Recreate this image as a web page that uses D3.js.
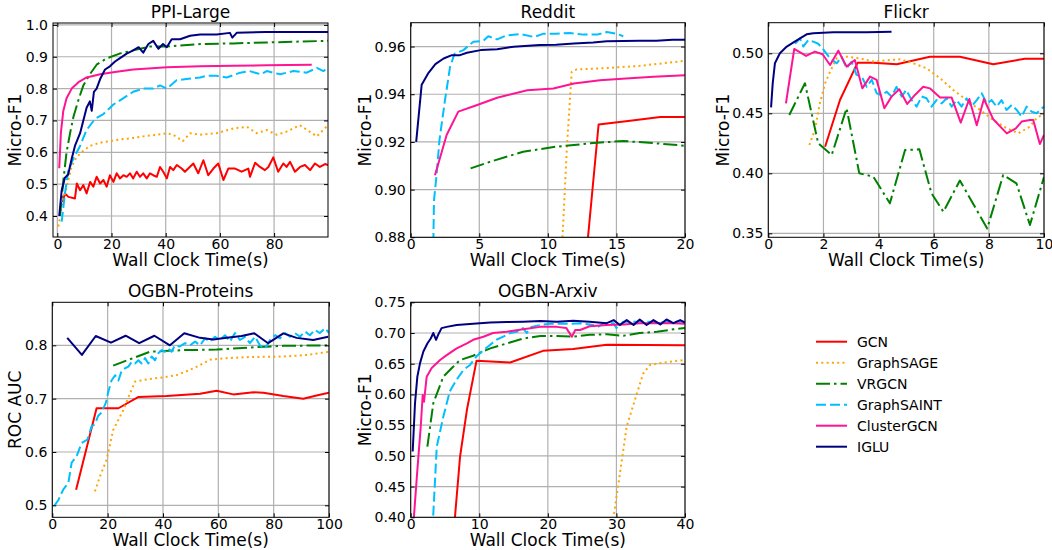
<!DOCTYPE html>
<html><head><meta charset="utf-8">
<script src="https://cdn.jsdelivr.net/npm/d3@7"></script>
<style>body{margin:0;background:#fff} svg{display:block} text{font-family:"DejaVu Sans",sans-serif;fill:#000}</style>
</head><body><svg id="c" width="1052" height="550"></svg>
<script>
const seriesNames = ["GCN","GraphSAGE","VRGCN","GraphSAINT","ClusterGCN","IGLU"];
const seriesColors = ["#ff0000","#ffa500","#008000","#00bfff","#ff1493","#000080"];
const seriesDash = [null,"2,3.3","14,4,2.5,4","10,4",null,null];

// ---- PPI-Large ----
const ppiGCN = [[2.0,0.444],[2.8,0.471],[4.1,0.46],[6.5,0.455],[7.2,0.502],[8.4,0.481],[9.6,0.497],[10.8,0.471],[12.1,0.507],[13.3,0.492],[14.5,0.523],[15.8,0.502],[17,0.513],[18.2,0.492],[19.4,0.528],[20.7,0.507],[21.9,0.534],[23.1,0.518],[24.4,0.528],[25.6,0.523],[26.8,0.534],[28,0.518],[29.3,0.539],[30.5,0.523],[31.7,0.534],[33,0.518],[34.2,0.534],[35.4,0.528],[36.7,0.523],[37.9,0.554],[39.1,0.539],[40.4,0.518],[41.6,0.554],[42.8,0.544],[44.1,0.56],[45.9,0.549],[47.1,0.539],[50.2,0.565],[52,0.534],[53.9,0.575],[55.7,0.528],[57.6,0.549],[59.4,0.565],[61.3,0.513],[63.1,0.549],[65.6,0.549],[68,0.539],[70.5,0.549],[71.1,0.523],[73,0.567],[74.8,0.554],[76.6,0.544],[77.9,0.554],[79.7,0.584],[81.5,0.539],[83.4,0.565],[84.6,0.554],[85.9,0.57],[87.7,0.539],[89.6,0.554],[91.4,0.56],[93.3,0.544],[95.1,0.565],[96.9,0.554],[98.8,0.563],[99.9,0.56]];
const ppiSAGE = [[0.4,0.367],[1.6,0.43],[3.4,0.49],[5.3,0.555],[7.1,0.585],[9.6,0.605],[12,0.62],[15.8,0.63],[19.4,0.635],[23,0.64],[28,0.645],[31.7,0.65],[36.8,0.655],[40.4,0.66],[42.8,0.655],[46.3,0.635],[49,0.66],[52.7,0.655],[58.8,0.66],[65,0.675],[70,0.68],[73.6,0.66],[77.3,0.67],[81,0.655],[84.6,0.665],[89.5,0.685],[95.8,0.65],[99.9,0.685]];
const ppiVR = [[1,0.40],[2.2,0.51],[3.4,0.60],[4.7,0.66],[5.9,0.71],[7.8,0.765],[9.6,0.81],[12,0.845],[14.5,0.875],[18.2,0.895],[23,0.91],[28,0.92],[34.2,0.932],[40.4,0.932],[52.7,0.94],[65,0.942],[77.3,0.945],[99.9,0.95]];
const ppiSAINT = [[1.6,0.382],[2.8,0.47],[4,0.54],[5.9,0.58],[8.4,0.62],[10.8,0.67],[13.9,0.705],[17,0.72],[20.7,0.75],[24.4,0.77],[28,0.79],[31.7,0.80],[35.4,0.80],[37.9,0.81],[40.4,0.80],[44,0.826],[47.7,0.83],[52.7,0.835],[55.1,0.84],[58.8,0.84],[62.5,0.835],[67.5,0.85],[71,0.855],[75,0.845],[77.3,0.855],[82.2,0.845],[87.1,0.855],[92,0.85],[95.8,0.865],[98.2,0.855],[99.9,0.865]];
const ppiCluster = [[0.7,0.55],[1.3,0.66],[2.2,0.73],[3.4,0.77],[5.3,0.80],[7.8,0.82],[10.8,0.835],[15.8,0.845],[21.9,0.853],[28,0.86],[40.4,0.867],[52.7,0.87],[65,0.872],[77.3,0.873],[93.9,0.875]];
const ppiIGLU = [[0.7,0.40],[1.6,0.48],[2.8,0.52],[4,0.53],[5.3,0.58],[6.5,0.62],[8.4,0.66],[9.6,0.70],[10.8,0.74],[12,0.76],[12.7,0.73],[13.5,0.79],[14.5,0.80],[15.8,0.83],[17.6,0.86],[19.4,0.87],[21.3,0.885],[23,0.895],[25.6,0.91],[28,0.92],[30,0.93],[31.7,0.913],[33.6,0.94],[35.4,0.95],[37.3,0.925],[39,0.94],[40.4,0.93],[42.2,0.955],[45.3,0.955],[49,0.966],[52.7,0.97],[58.8,0.97],[63.7,0.975],[64.6,0.96],[66.2,0.975],[77,0.978],[99.9,0.978]];

// ---- Reddit ----
const redGCN = [[12.6,0.86],[13.7,0.9273],[16,0.9289],[18.2,0.9305],[20,0.9305]];
const redSAGE = [[10.9,0.86],[11.4,0.919],[11.74,0.9494],[12.1,0.9504],[14.3,0.951],[16.7,0.9519],[20,0.954]];
const redVR = [[4.37,0.9089],[5.8,0.9117],[8.2,0.9159],[10.6,0.918],[13.1,0.9194],[15.5,0.9204],[17.9,0.9194],[20,0.9184]];
const redSAINT = [[1.6,0.86],[1.7,0.8956],[1.9,0.907],[2.1,0.921],[2.5,0.9375],[2.87,0.9515],[3.2,0.957],[3.84,0.9585],[4.57,0.962],[5.3,0.9624],[5.66,0.9643],[6.3,0.963],[7,0.9647],[8,0.9652],[9,0.964],[9.7,0.9654],[10.6,0.9654],[11.6,0.9657],[12.6,0.965],[13.6,0.965],[14.3,0.9661],[15,0.9654],[15.5,0.9643]];
const redCluster = [[1.77,0.906],[2.62,0.9229],[3.47,0.9327],[4.8,0.9354],[6.3,0.9385],[8.5,0.9417],[10.4,0.9424],[11.9,0.9445],[13.8,0.9459],[15.7,0.9466],[17.7,0.9473],[20,0.948]];
const redIGLU = [[0.4,0.92],[0.8,0.944],[1.3,0.949],[1.8,0.9526],[2.4,0.955],[3,0.9564],[3.6,0.9564],[4.1,0.9574],[5.1,0.9585],[6.3,0.9589],[7.5,0.9599],[9.4,0.9606],[10.6,0.9608],[11.9,0.9613],[13.3,0.9617],[14.3,0.9622],[16.7,0.9624],[17.9,0.9624],[19.1,0.9629],[20,0.9629]];

// ---- Flickr ----
const flGCN = [[2.06,0.4222],[2.6,0.4611],[3.24,0.4922],[3.81,0.4922],[4.66,0.4908],[5.86,0.4972],[6.95,0.4972],[8.16,0.4908],[9.3,0.4955],[10,0.4955]];
const flSAGE = [[1.49,0.4236],[1.69,0.4361],[1.87,0.4583],[2.06,0.475],[2.24,0.4847],[2.48,0.4958],[2.84,0.4972],[3.33,0.4958],[3.81,0.4931],[4.41,0.4944],[4.78,0.495],[5.26,0.4917],[5.74,0.4875],[6.23,0.4792],[6.71,0.4694],[7.19,0.4611],[7.68,0.4528],[8.16,0.4444],[8.65,0.4375],[9.07,0.4333],[9.49,0.4389],[9.73,0.4458],[10,0.45]];
const flVR = [[0.76,0.4486],[1.33,0.475],[1.81,0.425],[2.3,0.4153],[2.84,0.4542],[3.3,0.40],[3.81,0.3972],[4.41,0.375],[4.96,0.4194],[5.48,0.42],[5.92,0.3833],[6.35,0.368],[6.95,0.394],[7.94,0.354],[8.52,0.3986],[9.0,0.3917],[9.49,0.357],[10,0.397]];
const flSAINT = [[0.97,0.508],[1.15,0.5125],[1.27,0.5056],[1.45,0.511],[1.63,0.5097],[1.81,0.508],[2,0.503],[2.24,0.4958],[2.48,0.4917],[2.66,0.497],[2.84,0.4875],[3.02,0.493],[3.2,0.482],[3.39,0.4806],[3.57,0.472],[3.75,0.478],[3.93,0.4667],[4.11,0.465],[4.29,0.468],[4.47,0.464],[4.65,0.472],[4.84,0.464],[5,0.4694],[5.2,0.461],[5.38,0.4556],[5.56,0.464],[5.74,0.4625],[5.92,0.4556],[6.1,0.461],[6.29,0.4583],[6.47,0.4625],[6.65,0.4556],[6.83,0.461],[7.01,0.4556],[7.19,0.4625],[7.37,0.4556],[7.56,0.461],[7.74,0.4667],[7.92,0.4583],[8.1,0.461],[8.28,0.4556],[8.46,0.461],[8.64,0.4528],[8.83,0.4569],[9.01,0.4528],[9.19,0.4472],[9.37,0.4556],[9.55,0.4514],[9.73,0.45],[10,0.4556]];
const flCluster = [[0.64,0.4583],[0.94,0.5036],[1.37,0.4978],[1.69,0.5014],[1.97,0.4992],[2.24,0.4903],[2.54,0.5022],[2.84,0.4889],[3.14,0.4944],[3.41,0.4708],[3.69,0.4806],[3.93,0.4778],[4.21,0.4542],[4.47,0.4639],[4.75,0.47],[5.04,0.4578],[5.32,0.4653],[5.62,0.4722],[5.86,0.4708],[6.23,0.4631],[6.65,0.4631],[6.98,0.4422],[7.29,0.4619],[7.56,0.44],[7.82,0.4619],[8.16,0.445],[8.65,0.4333],[8.98,0.4375],[9.19,0.4431],[9.49,0.4444],[9.61,0.4444],[9.85,0.4244],[10,0.432]];
const flIGLU = [[0.1,0.455],[0.16,0.475],[0.24,0.4917],[0.42,0.50],[0.67,0.5056],[0.9,0.5089],[1.15,0.5125],[1.39,0.5158],[1.63,0.5167],[2.36,0.5175],[2.96,0.5175],[3.57,0.5175],[4.47,0.518]];

// ---- OGBN-Proteins ----
const prGCN = [[8.6,0.529],[16,0.682],[23.9,0.682],[31,0.703],[41.3,0.705],[53.4,0.709],[59.4,0.715],[65.4,0.708],[72.7,0.712],[76.3,0.711],[83.5,0.705],[90.7,0.70],[95.5,0.706],[100,0.711]];
const prSAGE = [[15.4,0.526],[17.2,0.554],[19.6,0.585],[22,0.641],[25.7,0.679],[28.1,0.71],[29.9,0.732],[34.1,0.736],[40.1,0.74],[44.9,0.744],[49.8,0.754],[53.4,0.763],[57,0.773],[63,0.776],[71.4,0.778],[83.5,0.779],[91.9,0.782],[100,0.788]];
const prVR = [[22,0.762],[35.3,0.788],[47.3,0.791],[59.4,0.792],[71.4,0.796],[83.5,0.799],[100,0.80]];
const prSAINT = [[0.7,0.499],[2.2,0.51],[4,0.53],[5.8,0.542],[7,0.58],[8.8,0.592],[10.6,0.617],[12.7,0.623],[14.2,0.648],[15.4,0.652],[16.6,0.668],[17.8,0.674],[19.4,0.693],[20.2,0.712],[21.4,0.734],[22.7,0.744],[23.9,0.734],[25.1,0.753],[26.3,0.757],[27.5,0.76],[28.7,0.769],[29.9,0.766],[31.1,0.772],[32.3,0.766],[33.5,0.776],[34.7,0.766],[35.9,0.779],[37.1,0.772],[38.3,0.785],[39.5,0.791],[40.7,0.788],[41.9,0.794],[43.1,0.788],[44.3,0.80],[46.1,0.798],[48,0.804],[49.8,0.80],[51.6,0.807],[53.4,0.80],[55.2,0.813],[57,0.807],[58.8,0.816],[60.6,0.81],[62.4,0.819],[64.2,0.807],[66,0.823],[67.8,0.81],[69.6,0.816],[71.4,0.804],[73.3,0.816],[75,0.80],[76.9,0.794],[78.7,0.81],[80.5,0.819],[82.3,0.813],[84.1,0.823],[85.9,0.816],[87.7,0.823],[89.5,0.816],[91.3,0.826],[93.1,0.819],[94.9,0.829],[96.7,0.823],[98.6,0.832],[100,0.823]];
const prIGLU = [[5.4,0.814],[10.7,0.782],[15.7,0.8175],[21.2,0.805],[26.5,0.818],[31.4,0.804],[36.9,0.818],[42.5,0.80],[47.7,0.8225],[53.4,0.814],[58.2,0.811],[63,0.814],[68.4,0.8175],[73,0.8225],[78,0.804],[83.5,0.8225],[88.3,0.814],[94.3,0.81],[99.7,0.816]];

// ---- OGBN-Arxiv ----
const axGCN = [[6.3,0.38],[7.2,0.499],[8.2,0.575],[9.6,0.655],[14.5,0.652],[19.3,0.671],[23.7,0.674],[28.6,0.681],[40,0.680]];
const axSAGE = [[29.3,0.38],[30.3,0.455],[31.5,0.548],[33,0.602],[33.9,0.634],[34.9,0.648],[36.4,0.651],[38.3,0.654],[40,0.656]];
const axVR = [[2.43,0.515],[3.3,0.586],[4.76,0.629],[6,0.643],[7.2,0.656],[9.1,0.663],[11.6,0.675],[14,0.683],[16.4,0.691],[18.9,0.695],[21.3,0.695],[23.7,0.694],[26.1,0.697],[28.6,0.698],[31,0.6955],[33.4,0.70],[35.9,0.702],[38.3,0.706],[40,0.708]];
const axSAINT = [[3.2,0.38],[3.3,0.4065],[3.8,0.515],[4.76,0.564],[5.7,0.605],[6.7,0.624],[7.7,0.64],[8.65,0.648],[9.6,0.662],[10.6,0.672],[11.6,0.681],[12.5,0.689],[13.5,0.694],[14.5,0.70],[15.5,0.702],[16.4,0.708],[16.9,0.70],[17.6,0.71],[18.9,0.713],[20.3,0.715],[21.8,0.715],[23.2,0.715],[24.7,0.716],[26.6,0.713],[27.1,0.708],[28.1,0.716],[29.6,0.716],[30,0.708],[31,0.7185],[32.5,0.7185],[34.4,0.7185],[36.4,0.7175],[38.3,0.7185],[40,0.7185]];
const axCluster = [[0.45,0.38],[0.49,0.404],[0.97,0.477],[1.46,0.547],[1.75,0.599],[1.94,0.588],[2.33,0.629],[3.06,0.643],[4.28,0.656],[5.25,0.664],[6.7,0.675],[8.2,0.683],[9.1,0.689],[10.6,0.694],[12,0.70],[14,0.702],[16.4,0.706],[18.9,0.71],[21.3,0.71],[22.7,0.708],[23.5,0.694],[24,0.705],[24.7,0.705],[26.1,0.711],[28.6,0.713],[31,0.714],[33.4,0.716],[35.9,0.716],[38.3,0.716],[40,0.715]];
const axIGLU = [[0.29,0.507],[0.63,0.586],[0.97,0.629],[1.36,0.651],[1.85,0.67],[2.43,0.683],[2.92,0.691],[3.3,0.70],[3.7,0.689],[4,0.697],[4.5,0.708],[5.25,0.71],[6.7,0.713],[9.1,0.715],[11.6,0.717],[14,0.718],[16.4,0.7185],[18.9,0.7196],[21.3,0.7185],[23.7,0.72],[26.1,0.7185],[28.6,0.716],[29.6,0.721],[30.5,0.713],[31.5,0.721],[32.5,0.713],[33.4,0.722],[34.4,0.713],[35.4,0.721],[36.4,0.714],[37.3,0.722],[38.3,0.716],[39.3,0.721],[40,0.717]];

// tick values
const ppiXTicks = [0,20,40,60,80], ppiYTicks = [0.4,0.5,0.6,0.7,0.8,0.9,1.0];
const redXTicks = [0,5,10,15,20], redYTicks = [0.88,0.90,0.92,0.94,0.96];
const flXTicks = [0,2,4,6,8,10], flYTicks = [0.35,0.40,0.45,0.50];
const prXTicks = [0,20,40,60,80,100], prYTicks = [0.5,0.6,0.7,0.8];
const axXTicks = [0,10,20,30,40], axYTicks = [0.40,0.45,0.50,0.55,0.60,0.65,0.70,0.75];

const panels = [
  {title:"PPI-Large", ylabel:"Micro-F1", series:[ppiGCN,ppiSAGE,ppiVR,ppiSAINT,ppiCluster,ppiIGLU], xd:[-1.6,99.9], yd:[0.334,1.006], xt:ppiXTicks, yt:ppiYTicks, yf:".1f", box:[53,23,328,237], ylx:21},
  {title:"Reddit", ylabel:"Micro-F1", series:[redGCN,redSAGE,redVR,redSAINT,redCluster,redIGLU], xd:[0,20], yd:[0.88,0.97], xt:redXTicks, yt:redYTicks, yf:".2f", box:[410.7,22.7,685,237.3], ylx:370.5},
  {title:"Flickr", ylabel:"Micro-F1", series:[flGCN,flSAGE,flVR,flSAINT,flCluster,flIGLU], xd:[0,10], yd:[0.3467,0.5255], xt:flXTicks, yt:flYTicks, yf:".2f", box:[768.3,22.7,1044,237.3], ylx:728.5},
  {title:"OGBN-Proteins", ylabel:"ROC AUC", series:[prGCN,prSAGE,prVR,prSAINT,null,prIGLU], xd:[0,100], yd:[0.4775,0.8807], xt:prXTicks, yt:prYTicks, yf:".1f", box:[52.3,302.3,329,517.3], ylx:21},
  {title:"OGBN-Arxiv", ylabel:"Micro-F1", series:[axGCN,axSAGE,axVR,axSAINT,axCluster,axIGLU], xd:[0,40], yd:[0.40,0.75], xt:axXTicks, yt:axYTicks, yf:".2f", box:[410.7,302.3,685,517.3], ylx:370.5}
];

const svg = d3.select("#c");
panels.forEach((p,pi)=>{
  const [x0,y0,x1,y1] = p.box;
  const x = d3.scaleLinear().domain(p.xd).range([x0,x1]);
  const y = d3.scaleLinear().domain(p.yd).range([y1,y0]);
  const g = svg.append("g");
  g.append("g").selectAll("line").data(p.xt).join("line")
    .attr("x1",d=>x(d)).attr("x2",d=>x(d)).attr("y1",y0).attr("y2",y1)
    .attr("stroke","#b0b0b0").attr("stroke-width",1.2);
  g.append("g").selectAll("line").data(p.yt).join("line")
    .attr("y1",d=>y(d)).attr("y2",d=>y(d)).attr("x1",x0).attr("x2",x1)
    .attr("stroke","#b0b0b0").attr("stroke-width",1.2);
  const cid = "clip"+pi;
  svg.append("clipPath").attr("id",cid).append("rect").attr("x",x0).attr("y",y0).attr("width",x1-x0).attr("height",y1-y0);
  const line = d3.line().x(d=>x(d[0])).y(d=>y(d[1]));
  const lg = g.append("g").attr("clip-path",`url(#${cid})`);
  p.series.forEach((s,si)=>{
    if(!s) return;
    lg.append("path").datum(s).attr("d",line).attr("fill","none")
      .attr("stroke",seriesColors[si]).attr("stroke-width",2)
      .attr("stroke-linejoin","round")
      .attr("stroke-dasharray",seriesDash[si]);
  });
  g.append("rect").attr("x",x0).attr("y",y0).attr("width",x1-x0).attr("height",y1-y0)
    .attr("fill","none").attr("stroke","#000").attr("stroke-width",1);
  const fmtY = d3.format(p.yf);
  const ax = d3.axisBottom(x).tickValues(p.xt).tickSize(-4).tickPadding(2).tickFormat(d3.format("d"));
  const ay = d3.axisLeft(y).tickValues(p.yt).tickSize(-4).tickPadding(5).tickFormat(fmtY);
  const gx = g.append("g").attr("transform",`translate(0,${y1})`).call(ax);
  const gy = g.append("g").attr("transform",`translate(${x0},0)`).call(ay);
  const gx2 = g.append("g").attr("transform",`translate(0,${y0})`).call(d3.axisTop(x).tickValues(p.xt).tickSize(-4).tickFormat(""));
  const gy2 = g.append("g").attr("transform",`translate(${x1},0)`).call(d3.axisRight(y).tickValues(p.yt).tickSize(-4).tickFormat(""));
  [gx,gy,gx2,gy2].forEach(a=>{a.select(".domain").remove(); a.selectAll("line").attr("stroke","#000"); a.selectAll("text").attr("font-size",14).attr("font-family","DejaVu Sans").attr("fill","#000");});
  g.append("text").attr("x",(x0+x1)/2).attr("y",y0-5).attr("text-anchor","middle").attr("font-size",17).text(p.title);
  g.append("text").attr("x",(x0+x1)/2).attr("y",y1+29).attr("text-anchor","middle").attr("font-size",17).text("Wall Clock Time(s)");
  g.append("text").attr("transform",`translate(${p.ylx},${(y0+y1)/2}) rotate(-90)`).attr("text-anchor","middle").attr("font-size",17).text(p.ylabel);
});

const leg = svg.append("g");
seriesNames.forEach((n,i)=>{
  const yy = 341.7 + i*21;
  leg.append("line").attr("x1",816).attr("x2",847).attr("y1",yy).attr("y2",yy)
    .attr("stroke",seriesColors[i]).attr("stroke-width",2).attr("stroke-dasharray",seriesDash[i]);
  leg.append("text").attr("x",857).attr("y",yy+5).attr("font-size",14).text(n);
});
</script></body></html>
